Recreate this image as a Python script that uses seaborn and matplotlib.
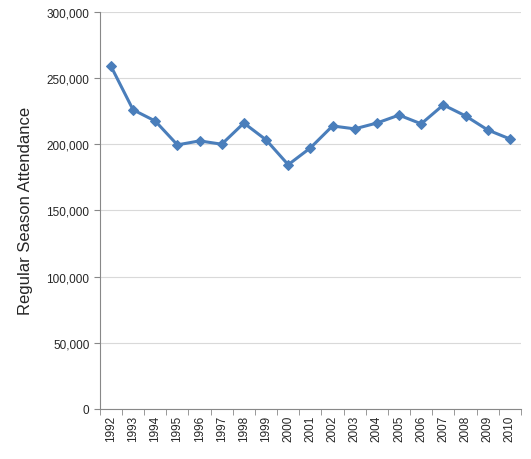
import matplotlib
matplotlib.use("Agg")
import matplotlib.pyplot as plt
import seaborn as sns
import pandas as pd
from matplotlib.ticker import FuncFormatter

years = [str(y) for y in range(1992, 2011)]
attendance = [259000, 226000, 217500, 199500, 202500, 200000, 216000, 203300, 184500,
              197200, 213800, 211600, 216000, 222000, 215400, 229700, 221400, 210800, 204000]

df = pd.DataFrame({"year": years, "attendance": attendance})

sns.set_style("white")
plt.rcParams['font.family'] = ['Liberation Sans', 'DejaVu Sans']

fig = plt.figure(figsize=(5.31, 4.6), dpi=100)
ax = fig.add_axes([0.188, 0.109, 0.793, 0.863])
sns.lineplot(data=df, x="year", y="attendance", ax=ax, color="#4a7ebb", linewidth=2.2,
             marker="D", markersize=5, markeredgecolor="#4a7ebb")

ax.set_xlim(-0.5, len(years) - 0.5)
ax.set_ylim(0, 300000)
ax.set_yticks(range(0, 300001, 50000))
ax.yaxis.set_major_formatter(FuncFormatter(lambda v, p: f"{int(v):,}"))
ax.grid(axis="y", color="#d9d9d9", linewidth=0.8)
ax.set_axisbelow(True)
for s in ["top", "right"]:
    ax.spines[s].set_visible(False)
for s in ["left", "bottom"]:
    ax.spines[s].set_color("#888888")
ax.set_xticks([i + 0.5 for i in range(-1, len(years))], minor=True)
ax.tick_params(axis="x", which="minor", length=4, bottom=True, color="#888888")
ax.tick_params(axis="x", rotation=90, labelsize=8.5, length=0, pad=4)
ax.tick_params(axis="y", labelsize=8.5, length=4, left=True, color="#888888")
ax.set_xlabel("")
ax.set_ylabel("Regular Season Attendance", fontsize=12, labelpad=10)

fig.savefig("out.png", dpi=100)
